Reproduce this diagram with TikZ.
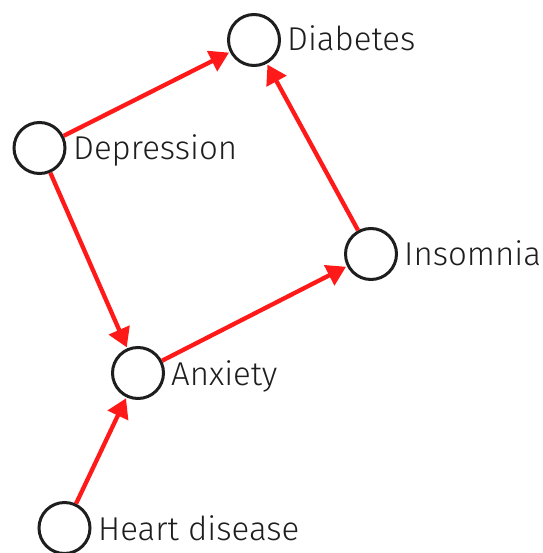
\documentclass[tikz,border=0pt]{standalone}
\usepackage{fontspec}
\setmainfont[UprightFont={* Light}]{Fira Sans}
\usetikzlibrary{arrows.meta}
\definecolor{arrred}{RGB}{255,25,25}
\definecolor{ink}{RGB}{30,30,30}
\begin{document}
\begin{tikzpicture}[x=1pt,y=-1pt,
  vnode/.style={circle,draw=ink,line width=3pt,minimum size=51pt,inner sep=0pt,fill=white},
  vlabel/.style={anchor=base west,inner sep=0pt,font=\fontsize{33}{38}\selectfont,text=ink},
  arr/.style={draw=arrred,line width=4.3pt,-{Triangle[length=19pt,width=22pt]},shorten >=1pt}]
\useasboundingbox (0,0) rectangle (542,553);
\node[vnode] (dia) at (254,40) {};
\node[vnode] (dep) at (39.5,148) {};
\node[vnode] (ins) at (371,254) {};
\node[vnode] (anx) at (138,373) {};
\node[vnode] (hea) at (64.5,528) {};
\node[vlabel] (ldia) at (287,51) {Diabetes};
\node[vlabel] (ldep) at (73,160) {Depression};
\node[vlabel] (lins) at (404,265) {Insomnia};
\node[vlabel] (lanx) at (171,385) {Anxiety};
\node[vlabel] (lhea) at (98,540) {Heart disease};
\draw[arr] (dep) -- (dia);
\draw[arr] (dep) -- (anx);
\draw[arr] (ins) -- (dia);
\draw[arr] (anx) -- (ins);
\draw[arr] (hea) -- (anx);
\end{tikzpicture}
\end{document}
